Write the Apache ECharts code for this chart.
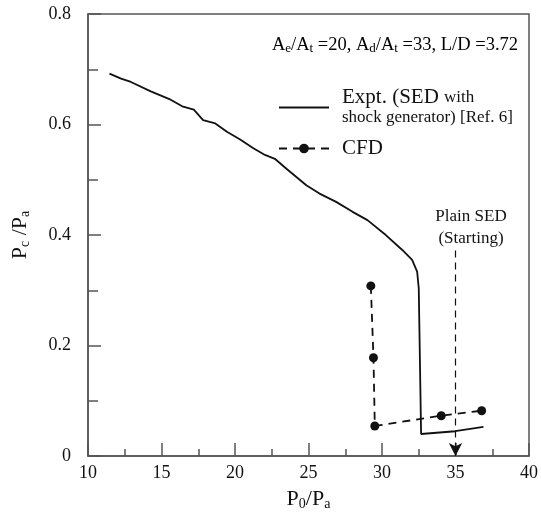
<!DOCTYPE html>
<html>
<head>
<meta charset="utf-8">
<script src="https://cdn.jsdelivr.net/npm/echarts@6/dist/echarts.min.js"></script>
<style>
  html, body { margin: 0; padding: 0; background: #fff; }
  #chart { width: 541px; height: 516px; }
</style>
</head>
<body>
<div id="chart"></div>
<script>
// experiment (SED with shock generator)
const exptX = [11.46, 12.25, 12.92, 14.27, 15.62, 16.41, 17.2, 17.83, 18.66, 19.45, 20.35, 21.25, 22.04, 22.71, 23.5, 24.85, 25.75, 26.88, 28.0, 29.01, 30.26, 31.38, 32.05, 32.39, 32.5, 32.66, 34.98, 36.9];
const exptY = [0.692, 0.683, 0.677, 0.660, 0.645, 0.633, 0.627, 0.608, 0.602, 0.587, 0.573, 0.557, 0.545, 0.538, 0.520, 0.490, 0.475, 0.460, 0.442, 0.427, 0.400, 0.373, 0.355, 0.334, 0.304, 0.040, 0.045, 0.053];
// CFD
const cfdX = [29.24, 29.42, 29.51, 34.03, 36.78];
const cfdY = [0.308, 0.178, 0.0545, 0.0731, 0.0821];
// plain SED starting marker (arrow from label down to axis)
const plainX = [35, 35];
const plainY = [0.372, 0.0];

const xTicks = { min: 10, max: 40, interval: 5 };
const yTicks = { min: 0, max: 0.8, interval: 0.2 };

const font = "Liberation Serif";
const ink = "#111";
const axisCol = "#555";

const zip = (xs, ys) => xs.map((x, i) => [x, ys[i]]);

const chart = echarts.init(document.getElementById("chart"), null, { renderer: "canvas" });

const subStyle = { fontFamily: font, fontSize: 13, color: ink, verticalAlign: "bottom", lineHeight: 12 };

const option = {
  animation: false,
  backgroundColor: "#fff",
  grid: {
    left: 87, right: 10, top: 14, bottom: 57,
    show: true, borderColor: axisCol, borderWidth: 1.5, backgroundColor: "transparent"
  },
  xAxis: {
    type: "value",
    min: xTicks.min, max: xTicks.max, interval: xTicks.interval,
    splitLine: { show: false },
    axisLine: { lineStyle: { color: axisCol, width: 1.5 } },
    axisTick: { inside: true, length: 13, lineStyle: { color: axisCol, width: 1.5 } },
    minorTick: { show: true, splitNumber: 2, length: 7, lineStyle: { color: axisCol, width: 1.5 } },
    axisLabel: { fontFamily: font, fontSize: 18, color: ink, margin: 8 },
    name: "P{sub|0}/P{sub|a}",
    nameLocation: "middle",
    nameGap: 18,
    nameTextStyle: {
      fontFamily: font, fontSize: 22, color: ink, lineHeight: 24,
      rich: { sub: { fontFamily: font, fontSize: 14, color: ink, verticalAlign: "bottom", lineHeight: 14 } }
    }
  },
  yAxis: {
    type: "value",
    min: yTicks.min, max: yTicks.max, interval: yTicks.interval,
    splitLine: { show: false },
    axisLine: { lineStyle: { color: axisCol, width: 1.5 } },
    axisTick: { inside: true, length: 13, lineStyle: { color: axisCol, width: 1.5 } },
    minorTick: { show: true, splitNumber: 2, length: 10, lineStyle: { color: axisCol, width: 1.5 } },
    axisLabel: {
      fontFamily: font, fontSize: 18, color: ink, margin: 17,
      formatter: (v) => (v === 0 ? "0" : v.toFixed(1))
    },
    name: "P{sub|c} /P{sub|a}",
    nameLocation: "middle",
    nameGap: 56,
    nameRotate: 90,
    nameTextStyle: {
      fontFamily: font, fontSize: 22, color: ink, lineHeight: 24,
      rich: { sub: { fontFamily: font, fontSize: 14, color: ink, verticalAlign: "bottom", lineHeight: 14 } }
    }
  },
  legend: {
    orient: "vertical",
    left: 273,
    top: 82,
    itemWidth: 50,
    itemHeight: 12,
    itemGap: 12,
    data: [
      { name: "Expt", itemStyle: { opacity: 0 } },
      { name: "CFD" }
    ],
    formatter: (name) => name === "Expt"
      ? "{b|Expt. (SED }{s|with}\n{s|shock generator) [Ref. 6]}"
      : "{b|CFD}",
    textStyle: {
      fontFamily: font, color: ink, padding: [0, 0, 0, 8],
      rich: {
        b: { fontFamily: font, fontSize: 21, color: ink, lineHeight: 20 },
        s: { fontFamily: font, fontSize: 17, color: ink, lineHeight: 20 }
      }
    }
  },
  graphic: [
    {
      type: "text",
      right: 23,
      top: 36,
      style: {
        text: "{n|A}{sub|e}{n|/A}{sub|t}{n| =20, A}{sub|d}{n|/A}{sub|t}{n| =33, L/D =3.72}",
        rich: {
          n: { fontFamily: font, fontSize: 18.5, color: ink, lineHeight: 20 },
          sub: subStyle
        }
      }
    },
    {
      type: "text",
      x: 471,
      y: 206,
      style: {
        text: "Plain SED\n(Starting)",
        fontFamily: font, fontSize: 17, fill: ink, align: "center", lineHeight: 22
      }
    }
  ],
  series: [
    {
      name: "Expt",
      type: "line",
      data: zip(exptX, exptY),
      showSymbol: false,
      symbol: "none",
      lineStyle: { color: ink, width: 1.8 },
      itemStyle: { color: ink }
    },
    {
      name: "CFD",
      type: "line",
      data: zip(cfdX, cfdY),
      symbol: "circle",
      symbolSize: 9,
      lineStyle: { color: ink, width: 1.8, type: [8, 6] },
      itemStyle: { color: ink }
    },
    {
      name: "Plain SED",
      type: "line",
      data: [],
      markLine: {
        silent: true,
        symbol: ["none", "arrow"],
        symbolSize: [10, 13],
        label: { show: false },
        lineStyle: { color: ink, width: 1.2, type: [7, 5] },
        data: [[
          { coord: [plainX[0], plainY[0]] },
          { coord: [plainX[1], plainY[1]] }
        ]]
      }
    }
  ]
};

chart.setOption(option);
</script>
</body>
</html>
